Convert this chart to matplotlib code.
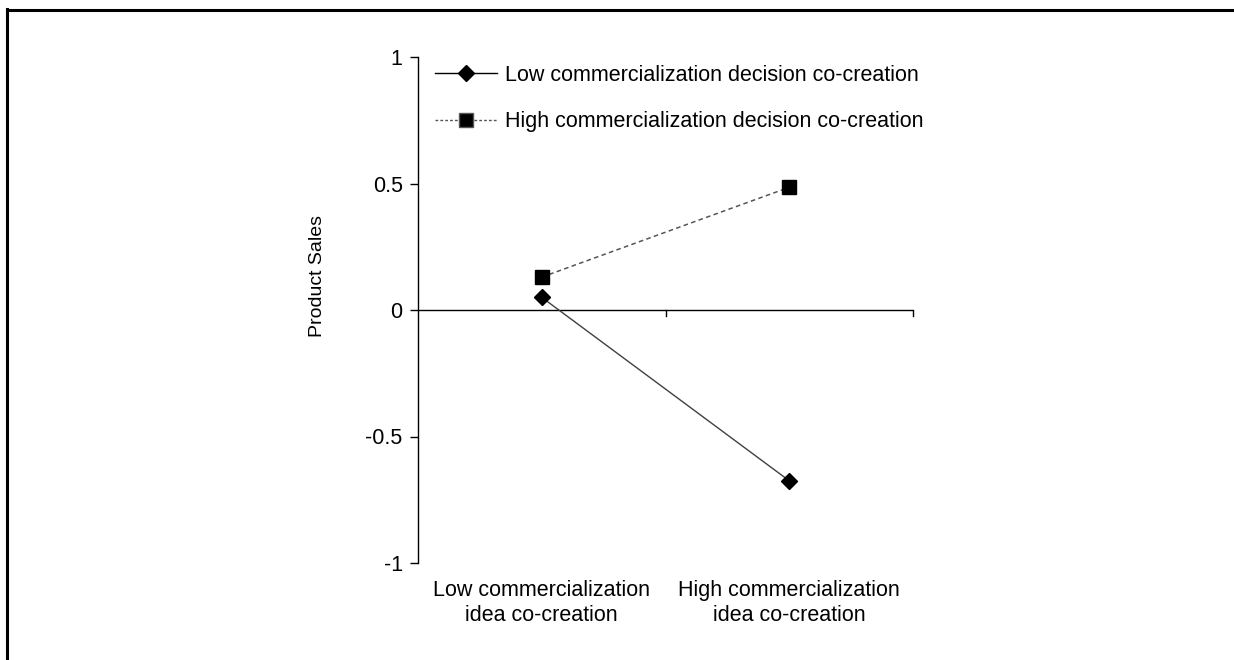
import matplotlib
matplotlib.use("Agg")
import matplotlib.pyplot as plt
from matplotlib.lines import Line2D
from matplotlib.transforms import blended_transform_factory

plt.rcParams['font.family'] = ['Liberation Sans', 'DejaVu Sans']

categories = ["Low commercialization\nidea co-creation",
              "High commercialization\nidea co-creation"]
low_decision = [0.05, -0.675]
high_decision = [0.13, 0.485]
series_names = ["Low commercialization decision co-creation",
                "High commercialization decision co-creation"]
y_ticks = [-1, -0.5, 0, 0.5, 1]
y_ticklabels = ["-1", "-0.5", "0", "0.5", "1"]

FS = 15.5
W, H = 1234, 660
fig = plt.figure(figsize=(W / 100, H / 100), dpi=100)

# frame lines along the top and left edges of the figure
fig.add_artist(Line2D([6.5 / W, 6.5 / W], [0, 1 - 9 / H], transform=fig.transFigure,
                      color='black', lw=2.2, solid_capstyle='projecting'))
fig.add_artist(Line2D([6.5 / W, 1], [1 - 9.5 / H, 1 - 9.5 / H], transform=fig.transFigure,
                      color='black', lw=2.2, solid_capstyle='projecting'))

left, right = 418 / W, 913 / W
bottom, top = 1 - 563 / H, 1 - 57 / H
ax = fig.add_axes([left, bottom, right - left, top - bottom])

x = [0.5, 1.5]
ax.plot(x, low_decision, color='#404040', lw=1.0, marker='D', markersize=8.5,
        markerfacecolor='black', markeredgecolor='black', zorder=3)
ax.plot(x, high_decision, color='#555555', lw=1.1, ls=(0, (3, 2.2)), marker='s',
        markersize=10, markerfacecolor='black', markeredgecolor='black', zorder=3)

ax.set_xlim(0, 2)
ax.set_ylim(-1, 1)

for s in ['top', 'right', 'bottom']:
    ax.spines[s].set_visible(False)
ax.spines['left'].set_linewidth(1.0)

# horizontal axis at zero with tick marks at category boundaries
ax.axhline(0, color='black', lw=1.0, zorder=2)
ax.set_xticks([])
trans = blended_transform_factory(ax.transData, ax.transAxes)
for xb in [1, 2]:
    ax.plot([xb, xb], [0, -0.025], color='black', lw=1.0, clip_on=False)

ax.set_yticks(y_ticks)
ax.set_yticklabels(y_ticklabels)
ax.tick_params(axis='y', direction='out', length=6, width=1.0, pad=5,
               labelsize=FS, colors='black')

for xc, lab in zip(x, categories):
    ax.text(xc, -0.033, lab, transform=trans, ha='center', va='top',
            fontsize=FS, linespacing=1.28)

fig.text(318 / W, 1 - 276 / H, "Product Sales", rotation=90, ha='center',
         va='center', fontsize=14)

handles = [
    Line2D([], [], color='black', lw=1.0, marker='D', markersize=8.5,
           markerfacecolor='black'),
    Line2D([], [], color='#555555', lw=1.0, ls=(0, (2, 1.5)), marker='s',
           markersize=10, markerfacecolor='black'),
]
ax.legend(handles, series_names, loc='upper left', bbox_to_anchor=(0.034, 0.985),
          frameon=False, fontsize=FS, handlelength=2.9, handletextpad=0.37,
          labelspacing=1.2, borderaxespad=0, borderpad=0)

fig.savefig("out.png", dpi=100, facecolor='white')
